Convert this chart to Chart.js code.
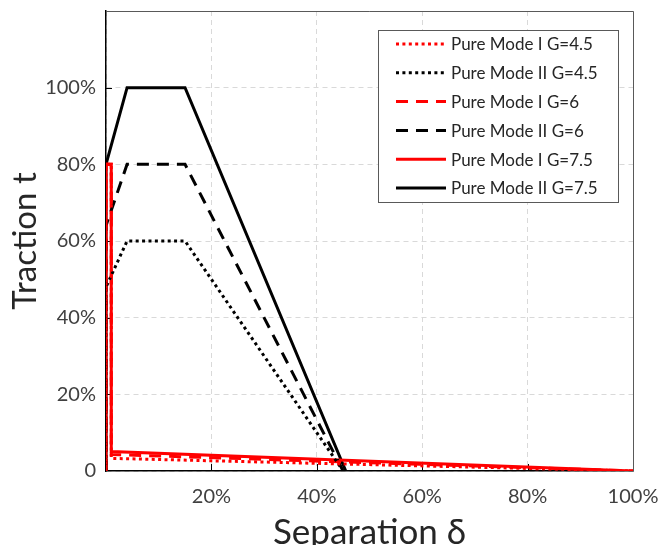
<!DOCTYPE html>
<html>
<head>
<meta charset="utf-8">
<script src="https://cdn.jsdelivr.net/npm/chart.js@4.4.1/dist/chart.umd.min.js"></script>
<style>
  html, body { margin: 0; padding: 0; background: #fff; }
  #wrap { width: 668px; height: 545px; position: relative; }
</style>
</head>
<body>
<div id="wrap"><canvas id="tractionChart"></canvas></div>
<script>
// Traction-separation laws (separation and traction as fractions)
const modeIX = [0, 0, 0.01, 0.01, 1.0];
const modeI45Y = [0, 0.8, 0.8, 0.033, 0];
const modeI6Y = [0, 0.8, 0.8, 0.043, 0];
const modeI75Y = [0, 0.8, 0.8, 0.051, 0];

const modeII45X = [0, 0, 0.04, 0.15, 0.45];
const modeII45Y = [0, 0.48, 0.6, 0.6, 0];
const modeII6X = [0, 0, 0.04, 0.15, 0.45];
const modeII6Y = [0, 0.64, 0.8, 0.8, 0];
const modeII75X = [0, 0, 0.04, 0.15, 0.455];
const modeII75Y = [0, 0.8, 1.0, 1.0, 0];

const xTickValues = [0, 0.2, 0.4, 0.6, 0.8, 1.0];
const xTickLabels = ["", "20%", "40%", "60%", "80%", "100%"];
const yTickValues = [0, 0.2, 0.4, 0.6, 0.8, 1.0, 1.2];
const yTickLabels = ["0", "20%", "40%", "60%", "80%", "100%", ""];

const DOTTED = [3, 3.4];
const DASHED = [12, 8];

function toPoints(xs, ys) {
  return xs.map((x, i) => ({ x: x, y: ys[i] }));
}

function series(label, xs, ys, color, dash) {
  return {
    label: label,
    data: toPoints(xs, ys),
    borderColor: color,
    backgroundColor: color,
    borderWidth: 3,
    borderDash: dash,
    pointRadius: 0,
    tension: 0,
    fill: false,
  };
}

// frame on top/right + small inward tick marks
const framePlugin = {
  id: "frame",
  beforeDatasetsDraw(chart) {
    const { ctx, chartArea, scales } = chart;
    ctx.save();
    ctx.strokeStyle = "#595959";
    ctx.lineWidth = 1;
    ctx.beginPath();
    ctx.moveTo(chartArea.left, chartArea.top + 0.5);
    ctx.lineTo(chartArea.right + 0.5, chartArea.top + 0.5);
    ctx.lineTo(chartArea.right + 0.5, chartArea.bottom);
    ctx.stroke();
    ctx.strokeStyle = "#000";
    ctx.beginPath();
    xTickValues.slice(1, -1).forEach((v) => {
      const px = Math.round(scales.x.getPixelForValue(v)) + 0.5;
      ctx.moveTo(px, chartArea.bottom);
      ctx.lineTo(px, chartArea.bottom - 7);
    });
    yTickValues.slice(1, -1).forEach((v) => {
      const py = Math.round(scales.y.getPixelForValue(v)) + 0.5;
      ctx.moveTo(chartArea.left, py);
      ctx.lineTo(chartArea.left + 6, py);
    });
    ctx.stroke();
    ctx.restore();
  },
};

// legend box inside the plot, top right
const legendPlugin = {
  id: "boxLegend",
  afterDraw(chart) {
    const ctx = chart.ctx;
    const box = { x: 378.5, y: 30.5, w: 240, h: 172 };
    ctx.save();
    ctx.fillStyle = "#fff";
    ctx.fillRect(box.x, box.y, box.w, box.h);
    ctx.strokeStyle = "#595959";
    ctx.lineWidth = 1;
    ctx.strokeRect(box.x, box.y, box.w, box.h);
    ctx.font = "17px Lato";
    ctx.textBaseline = "middle";
    ctx.fillStyle = "#262626";
    chart.data.datasets.forEach((ds, i) => {
      const cy = 44 + i * 28.8;
      ctx.beginPath();
      ctx.setLineDash(ds.borderDash || []);
      ctx.strokeStyle = ds.borderColor;
      ctx.lineWidth = ds.borderWidth;
      ctx.moveTo(396, cy);
      ctx.lineTo(446, cy);
      ctx.stroke();
      ctx.setLineDash([]);
      ctx.fillText(ds.label, 451, cy + 1);
    });
    ctx.restore();
  },
};

Chart.defaults.font.family = "Lato, 'Open Sans', sans-serif";
Chart.defaults.color = "#404040";

const chart = new Chart(document.getElementById("tractionChart"), {
  type: "line",
  data: {
    datasets: [
      series("Pure Mode I G=4.5", modeIX, modeI45Y, "#ff0000", DOTTED),
      series("Pure Mode II G=4.5", modeII45X, modeII45Y, "#000000", DOTTED),
      series("Pure Mode I G=6", modeIX, modeI6Y, "#ff0000", DASHED),
      series("Pure Mode II G=6", modeII6X, modeII6Y, "#000000", DASHED),
      series("Pure Mode I G=7.5", modeIX, modeI75Y, "#ff0000", []),
      series("Pure Mode II G=7.5", modeII75X, modeII75Y, "#000000", []),
    ],
  },
  options: {
    responsive: true,
    maintainAspectRatio: false,
    animation: false,
    layout: { padding: { top: 11, right: 35, bottom: 0, left: 0 } },
    plugins: {
      legend: { display: false },
      tooltip: { enabled: false },
    },
    scales: {
      x: {
        type: "linear",
        min: 0,
        max: 1,
        afterBuildTicks: (s) => {
          s.ticks = xTickValues.map((v) => ({ value: v }));
        },
        afterFit: (s) => {
          s.height = 74;
          s.paddingLeft = 0;
          s.paddingRight = 0;
        },
        ticks: {
          callback: (v, i) => xTickLabels[i],
          font: { size: 20 },
          padding: 14,
          maxRotation: 0,
          autoSkip: false,
        },
        grid: { color: "#d9d9d9", drawTicks: false },
        border: { color: "#000", width: 1.5, dash: [5, 4] },
        title: {
          display: true,
          text: "Separation δ",
          font: { size: 35, lineHeight: 1 },
          color: "#262626",
          padding: { top: 0, bottom: -5 },
        },
      },
      y: {
        type: "linear",
        min: 0,
        max: 1.2,
        afterBuildTicks: (s) => {
          s.ticks = yTickValues.map((v) => ({ value: v }));
        },
        afterFit: (s) => {
          s.width = 106;
          s.paddingTop = 0;
          s.paddingBottom = 0;
        },
        ticks: {
          callback: (v, i) => yTickLabels[i],
          font: { size: 20 },
          padding: 10,
        },
        grid: { color: "#d9d9d9", drawTicks: false },
        border: { color: "#000", width: 1.5, dash: [5, 4] },
        title: {
          display: true,
          text: "Traction t",
          font: { size: 33, lineHeight: 1 },
          color: "#262626",
          padding: { top: 9, bottom: 0 },
        },
      },
    },
  },
  plugins: [framePlugin, legendPlugin],
});
</script>
</body>
</html>
